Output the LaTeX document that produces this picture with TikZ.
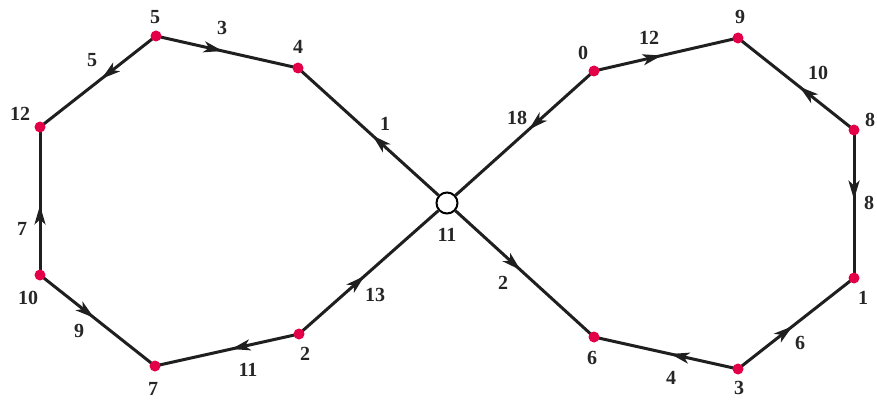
\documentclass[tikz,border=0pt]{standalone}
\usepackage{fontspec}
\setmainfont{Liberation Serif}
\usetikzlibrary{arrows.meta,decorations.markings}
\definecolor{vred}{RGB}{228,0,72}
\tikzset{
  vtx/.style={circle,fill=vred,inner sep=0pt,minimum size=11pt},
  hub/.style={circle,draw=black,line width=2pt,fill=white,inner sep=0pt,minimum size=21pt},
  lbl/.style={font=\fontsize{20}{20}\selectfont\bfseries,text=black!85,inner sep=0pt},
  edg/.style={line width=3pt,black!88,postaction={decorate},
    decoration={markings,mark=at position 0.47 with {\arrow{Stealth[length=19pt,width=11pt,inset=5pt]}}}}
}
\begin{document}
\begin{tikzpicture}[x=1pt,y=-1pt]
\useasboundingbox (0,0) rectangle (877,401);
% edges first, vertices on top
\coordinate (p5) at (156,36);
\coordinate (p4) at (298,68);
\coordinate (p12) at (40,127);
\coordinate (p10) at (40,275);
\coordinate (p7) at (155,366);
\coordinate (p2) at (299,334);
\coordinate (pc) at (447,203);
\coordinate (p0) at (594,71);
\coordinate (p9) at (738,38);
\coordinate (p8) at (854,130);
\coordinate (p1) at (854,278);
\coordinate (p3) at (738,369);
\coordinate (p6) at (594,337);

\node[hub] (c) at (pc) {};

\draw[edg] (p5) -- (p12);
\draw[edg] (p5) -- (p4);
\draw[edg] (c) -- (p4);
\draw[edg] (p10) -- (p12);
\draw[edg] (p10) -- (p7);
\draw[edg] (p2) -- (p7);
\draw[edg] (p2) -- (c);
\draw[edg] (p0) -- (c);
\draw[edg] (p0) -- (p9);
\draw[edg] (p8) -- (p9);
\draw[edg] (p8) -- (p1);
\draw[edg] (p3) -- (p1);
\draw[edg] (p3) -- (p6);
\draw[edg] (c) -- (p6);

\node[vtx] (v5) at (p5) {};
\node[vtx] (v4) at (p4) {};
\node[vtx] (v12) at (p12) {};
\node[vtx] (v10) at (p10) {};
\node[vtx] (v7) at (p7) {};
\node[vtx] (v2) at (p2) {};
\node[vtx] (v0) at (p0) {};
\node[vtx] (v9) at (p9) {};
\node[vtx] (v8) at (p8) {};
\node[vtx] (v1) at (p1) {};
\node[vtx] (v3) at (p3) {};
\node[vtx] (v6) at (p6) {};

% vertex labels
\node[lbl] (l5) at (155,17) {5};
\node[lbl] (l4) at (298,47) {4};
\node[lbl] (l12) at (20,114) {12};
\node[lbl] (l10) at (28,298) {10};
\node[lbl] (l7) at (153,389) {7};
\node[lbl] (l2) at (305,354) {2};
\node[lbl] (l11) at (447,235) {11};
\node[lbl] (l0) at (583,53) {0};
\node[lbl] (l9) at (740,17) {9};
\node[lbl] (l8) at (870,120) {8};
\node[lbl] (l1) at (863,298) {1};
\node[lbl] (l3) at (739,388) {3};
\node[lbl] (l6) at (592,358) {6};

% edge labels
\node[lbl] (e5) at (92,60) {5};
\node[lbl] (e3) at (222,28) {3};
\node[lbl] (e1) at (385,124) {1};
\node[lbl] (e7) at (22,229) {7};
\node[lbl] (e9) at (79,331) {9};
\node[lbl] (e11) at (248,370) {11};
\node[lbl] (e13) at (375,295) {13};
\node[lbl] (e18) at (517,118) {18};
\node[lbl] (e12) at (649,38) {12};
\node[lbl] (e10) at (818,73) {10};
\node[lbl] (e8) at (869,203) {8};
\node[lbl] (e6) at (800,343) {6};
\node[lbl] (e4) at (671,378) {4};
\node[lbl] (e2) at (503,283) {2};
\end{tikzpicture}
\end{document}
